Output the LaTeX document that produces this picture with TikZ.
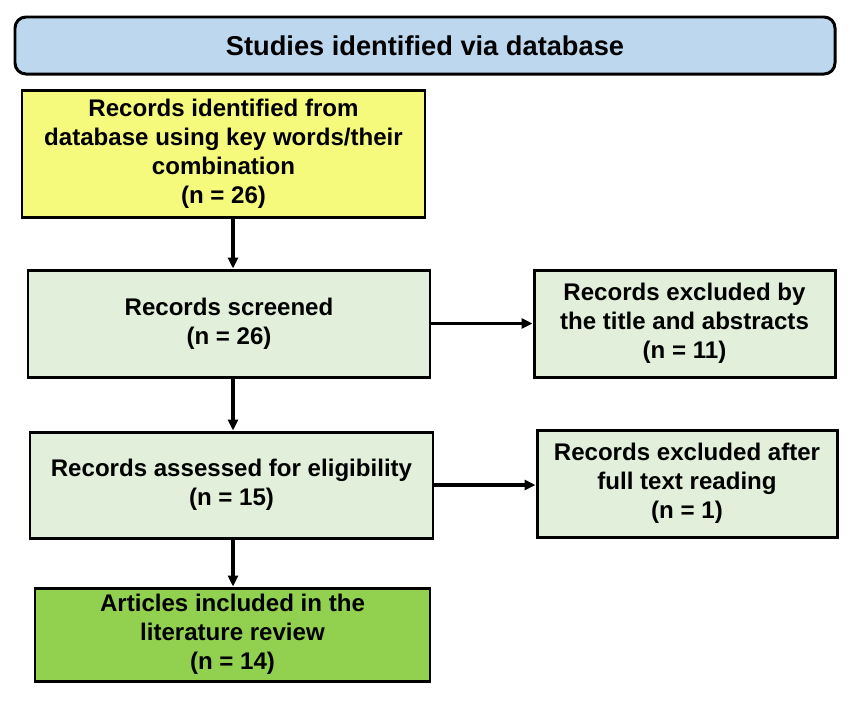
\documentclass[tikz,border=0pt]{standalone}
\usepackage{fontspec}
\setmainfont{Liberation Sans}
\usepackage{xcolor}
\usetikzlibrary{arrows.meta}
\definecolor{headblue}{HTML}{BDD7EE}
\definecolor{idyellow}{HTML}{F5FA7C}
\definecolor{palegreen}{HTML}{E2EFDA}
\definecolor{keepgreen}{HTML}{92D050}

\begin{document}
\begin{tikzpicture}[line width=1.7pt,
  box/.style={draw=black,align=center,inner sep=0pt,
    font=\bfseries\fontsize{13.7}{16.5}\selectfont},
  arr/.style={-{Triangle[length=2.2mm,width=2mm]},line width=2.1pt}]
\useasboundingbox (0,0) rectangle (17.26,-14.02);
% header
\node[box,fill=headblue,rounded corners=0.22cm,minimum width=16.4cm,minimum height=1.14cm,
  font=\bfseries\fontsize{15.5}{18}\selectfont] (head) at (8.50,-0.91) {Studies identified via database};
% main column
\node[box,fill=idyellow,minimum width=8.06cm,minimum height=2.54cm] (ident) at (4.47,-3.07)
  {Records identified from\\database using key words/their\\combination\\(n = 26)};
\node[box,fill=palegreen,minimum width=8.04cm,minimum height=2.14cm] (screen) at (4.58,-6.47)
  {Records screened\\(n = 26)};
\node[box,fill=palegreen,minimum width=8.06cm,minimum height=2.12cm] (elig) at (4.63,-9.70)
  {Records assessed for eligibility\\(n = 15)};
\node[box,fill=keepgreen,minimum width=7.9cm,minimum height=1.86cm] (incl) at (4.65,-12.69)
  {Articles included in the\\literature review\\(n = 14)};
% exclusions
\node[box,fill=palegreen,minimum width=6.02cm,minimum height=2.14cm] (excl1) at (13.69,-6.47)
  {Records excluded by\\the title and abstracts\\(n = 11)};
\node[box,fill=palegreen,minimum width=6.0cm,minimum height=2.14cm] (excl2) at (13.74,-9.67)
  {Records excluded after\\full text reading\\(n = 1)};
% arrows
\coordinate (ax) at (4.66,0);
\draw[arr] (ax |- ident.south) -- (ax |- screen.north);
\draw[arr] (ax |- screen.south) -- (ax |- elig.north);
\draw[arr] (ax |- elig.south) -- (ax |- incl.north);
\draw[arr] (screen.east) -- (screen.east -| excl1.west);
\draw[arr] (elig.east) -- (elig.east -| excl2.west);
\end{tikzpicture}
\end{document}
